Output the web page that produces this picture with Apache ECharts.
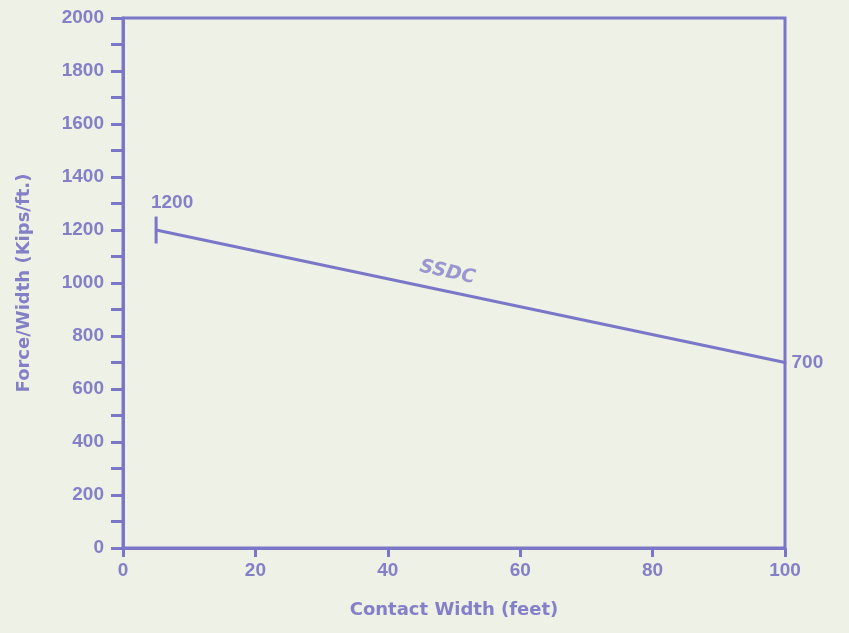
<!DOCTYPE html>
<html>
<head>
<meta charset="utf-8">
<script src="https://cdn.jsdelivr.net/npm/echarts@6/dist/echarts.min.js"></script>
<style>
html,body{margin:0;padding:0;background:#eef1e6;}
#chart{width:849px;height:633px;}
</style>
</head>
<body>
<div id="chart"></div>
<script>
// Data
var contactWidth = [5, 100];          // feet
var forcePerWidth = [1200, 700];      // kips/ft
var endLabels = ['1200', '700'];
var seriesName = 'SSDC';
var seriesNamePos = [49, 1040];       // where the series name sits
var xTicks = [0, 20, 40, 60, 80, 100];
var yTicks = [0, 200, 400, 600, 800, 1000, 1200, 1400, 1600, 1800, 2000];

var AX = '#7b77c8';
var TX = '#8480c8';
var numFont = '"Liberation Sans", Arial, sans-serif';
var titleFont = '"DejaVu Sans", sans-serif';

var chart = echarts.init(document.getElementById('chart'));
var lineData = contactWidth.map(function (x, i) {
  var item = { value: [x, forcePerWidth[i]] };
  if (i === 0) {
    item.symbol = 'rect';
    item.symbolSize = [3, 27];
    item.label = { show: true, formatter: endLabels[i], position: 'top', distance: 4, offset: [16, 0] };
  } else {
    item.symbol = 'circle';
    item.symbolSize = 3;
    item.label = { show: true, formatter: endLabels[i], position: 'right', distance: 5 };
  }
  return item;
});

chart.setOption({
  backgroundColor: '#eef1e6',
  animation: false,
  grid: {
    left: 123, right: 64, top: 18, bottom: 85,
    show: true, borderColor: AX, borderWidth: 3, backgroundColor: 'transparent'
  },
  xAxis: {
    type: 'value', min: xTicks[0], max: xTicks[xTicks.length - 1], interval: 20,
    name: 'Contact Width (feet)', nameLocation: 'middle', nameGap: 53,
    nameTextStyle: { color: TX, fontFamily: titleFont, fontWeight: 'bold', fontSize: 18 },
    axisLine: { show: true, lineStyle: { color: AX, width: 3 } },
    axisTick: { show: true, length: 9, inside: false, lineStyle: { color: AX, width: 3 } },
    axisLabel: { color: TX, fontFamily: numFont, fontWeight: 'bold', fontSize: 19, margin: 13,
      formatter: function (v) { return String(v); } },
    splitLine: { show: false }
  },
  yAxis: {
    type: 'value', min: yTicks[0], max: yTicks[yTicks.length - 1], interval: 200,
    name: 'Force/Width (Kips/ft.)', nameLocation: 'middle', nameGap: 90,
    nameTextStyle: { color: TX, fontFamily: titleFont, fontWeight: 'bold', fontSize: 18 },
    axisLine: { show: true, lineStyle: { color: AX, width: 3 } },
    axisTick: { show: true, length: 12, lineStyle: { color: AX, width: 3 } },
    minorTick: { show: true, splitNumber: 2, length: 12, lineStyle: { color: AX, width: 3 } },
    axisLabel: { color: TX, fontFamily: numFont, fontWeight: 'bold', fontSize: 19, margin: 19,
      formatter: function (v) { return String(v); } },
    splitLine: { show: false }
  },
  series: [
    {
      name: seriesName,
      type: 'line',
      data: lineData,
      showAllSymbol: true,
      lineStyle: { color: AX, width: 3 },
      itemStyle: { color: AX },
      label: { color: TX, fontFamily: numFont, fontWeight: 'bold', fontSize: 19 },
      z: 3
    },
    {
      type: 'scatter',
      data: [seriesNamePos],
      symbolSize: 0,
      label: {
        show: true, formatter: seriesName, position: 'inside', rotate: -12,
        color: TX, fontFamily: titleFont, fontWeight: 'bold', fontStyle: 'italic', fontSize: 19
      },
      silent: true
    }
  ]
});
</script>
</body>
</html>
